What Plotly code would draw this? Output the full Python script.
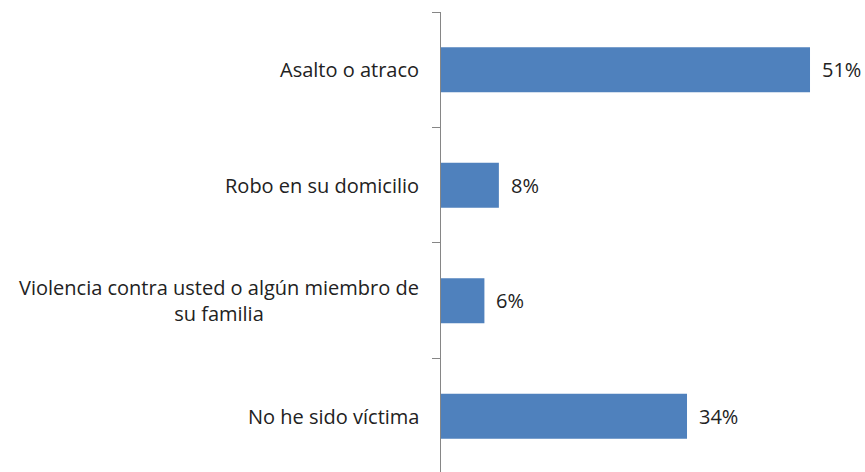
import plotly.graph_objects as go

categories = ["Asalto o atraco", "Robo en su domicilio",
              "Violencia contra usted o algún miembro de<br>su familia",
              "No he sido víctima"]
values = [51, 8, 6, 34]
labels = ["51%", "8%", "6%", "34%"]

FONT = dict(family="Open Sans", size=20, color="#222222")

fig = go.Figure(go.Bar(
    y=categories, x=values, orientation="h",
    marker=dict(color="#4F81BD", line=dict(width=0)),
    width=0.39, cliponaxis=False,
))

for c in categories:
    fig.add_annotation(
        x=0, xref="paper", y=c, yref="y", xanchor="right", yanchor="middle",
        xshift=-20, text=c, showarrow=False, align="center", font=FONT,
    )

for c, v, t in zip(categories, values, labels):
    fig.add_annotation(
        x=v, xref="x", y=c, yref="y", xanchor="left", yanchor="middle",
        xshift=10, text=t, showarrow=False, font=FONT,
    )

fig.update_layout(
    width=865, height=472,
    margin=dict(l=441, r=0, t=12, b=0),
    plot_bgcolor="white", paper_bgcolor="white",
    showlegend=False,
    xaxis=dict(range=[0, 58.6], visible=False, showgrid=False, zeroline=False),
    yaxis=dict(
        categoryorder="array", categoryarray=categories,
        range=[3.483, -0.5], showticklabels=False,
        tickson="boundaries", ticks="outside", ticklen=8,
        tickcolor="#868686", showline=True, linecolor="#868686", linewidth=1,
        showgrid=False, zeroline=False,
    ),
)

fig.write_html("out.html")
